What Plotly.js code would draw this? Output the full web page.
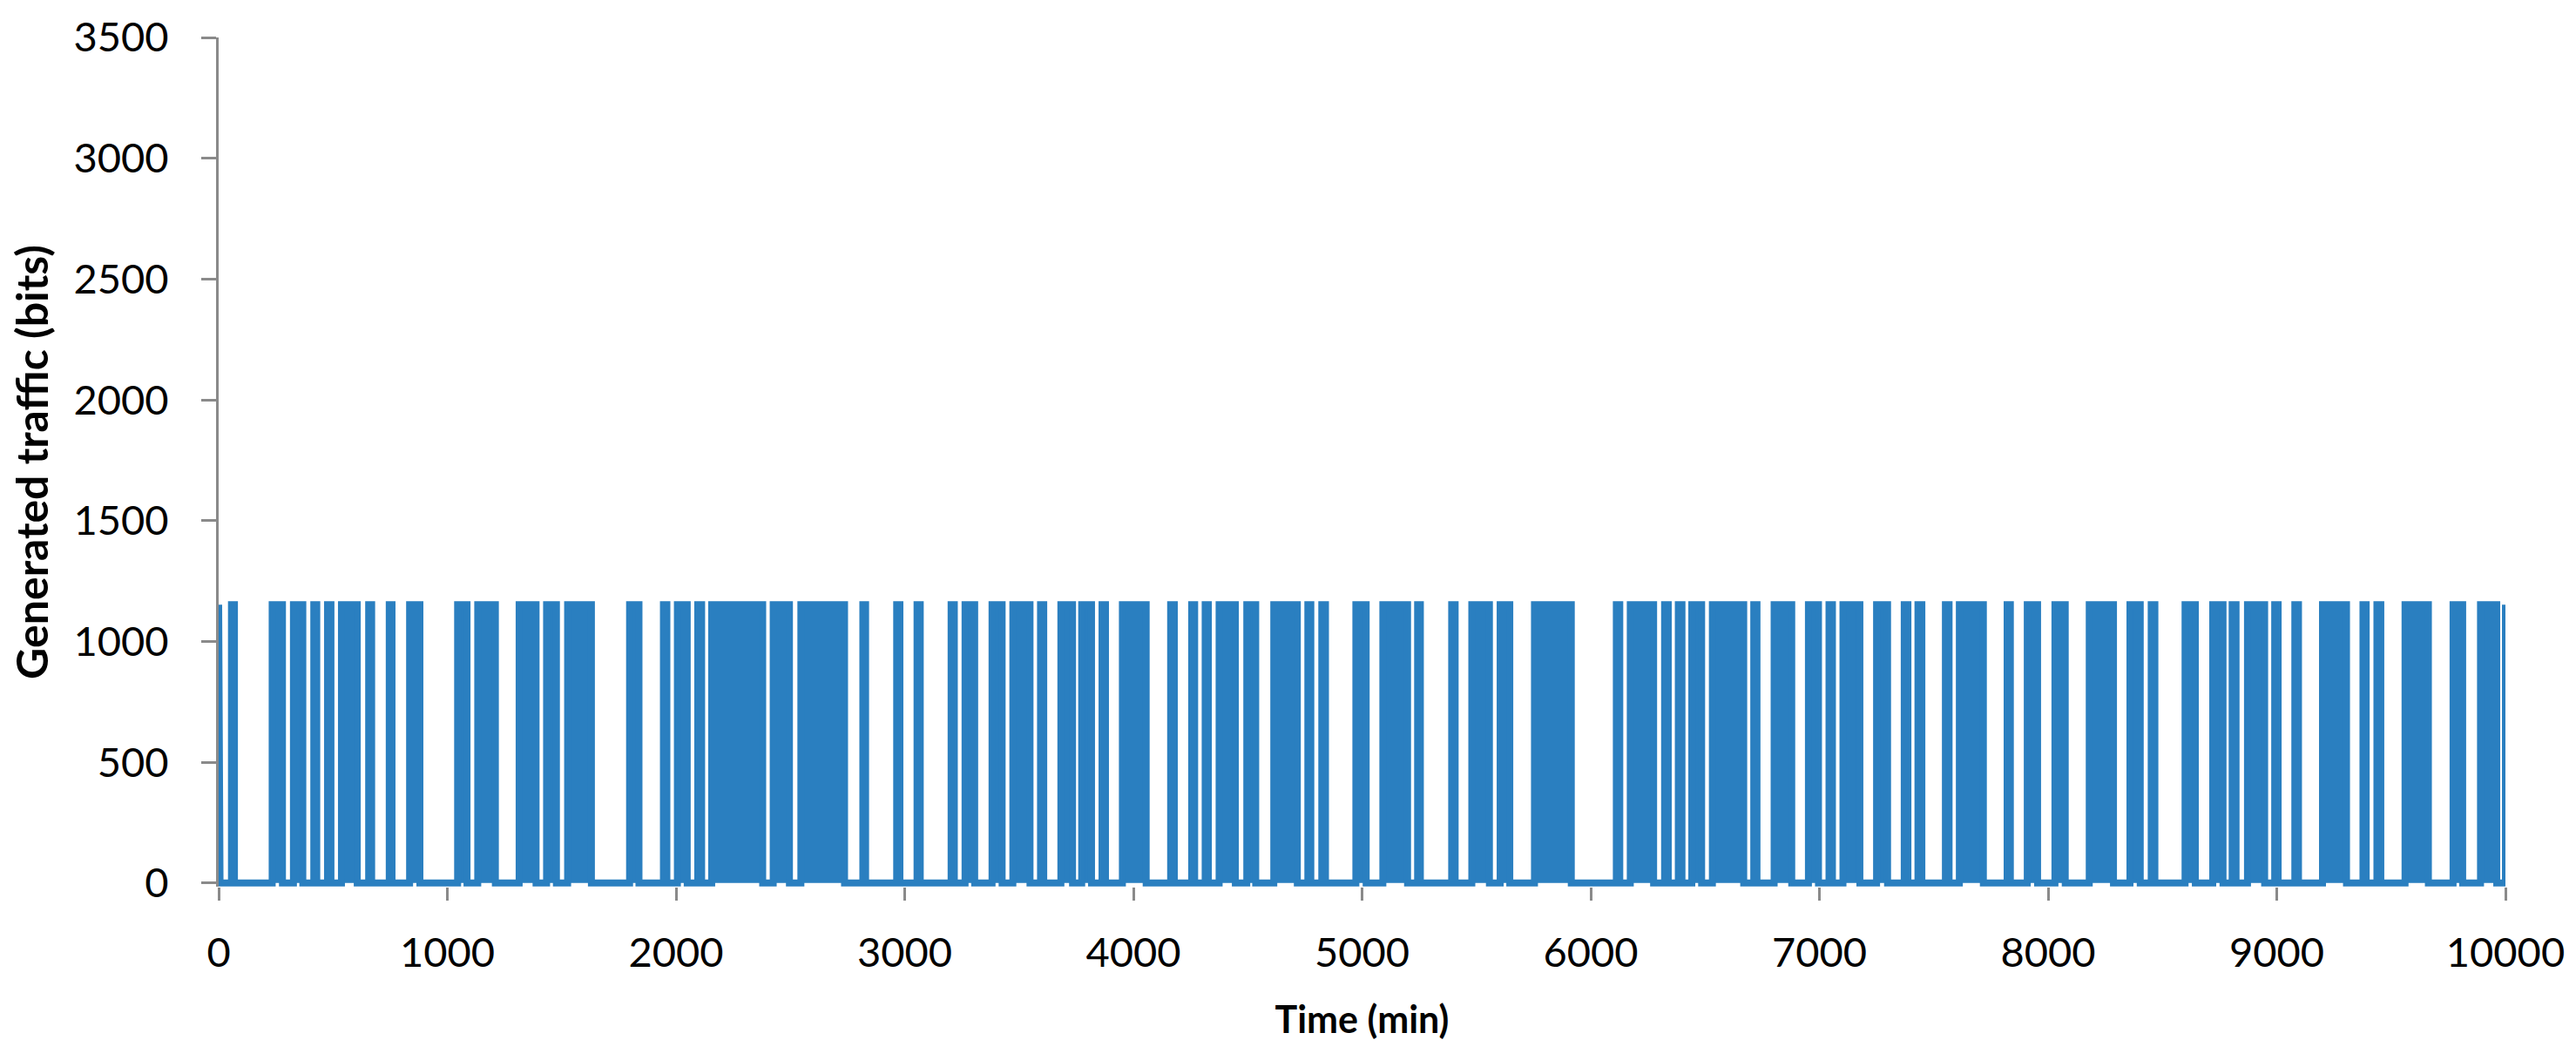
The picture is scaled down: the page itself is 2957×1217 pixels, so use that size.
<!DOCTYPE html>
<html>
<head>
<meta charset="utf-8">
<script src="https://cdn.plot.ly/plotly-3.0.1.min.js"></script>
<style>
  html, body { margin: 0; padding: 0; background: #ffffff; }
  #chart { width: 2957px; height: 1217px; }
</style>
</head>
<body>
<div id="chart"></div>
<script>
// Traffic bursts: start and end time (min) of each "on" period
const pulseStart = [0, 56, 234, 327, 416, 476, 537, 656, 746, 835, 1045, 1133,
  1314, 1434, 1526, 1797, 1945, 2006, 2095, 2156, 2425,
  2546, 2817, 2965, 3054, 3203, 3264, 3382, 3473, 3594, 3683,
  3774, 3863, 3952, 4163, 4255, 4314, 4375, 4496, 4614, 4763, 4824, 4973,
  5091, 5243, 5392, 5480, 5604, 5754, 6112, 6173,
  6323, 6383, 6442, 6532, 6713, 6802, 6952, 7042, 7103, 7250, 7371, 7431,
  7551, 7612, 7821, 7909, 8030, 8180, 8358, 8451, 8599, 8720,
  8805, 8872, 8991, 9079, 9200, 9377, 9438, 9561, 9771, 9891, 10000];
const pulseEnd = [6, 69, 279, 368, 429, 491, 606, 669, 758, 880, 1086, 1210,
  1388, 1477, 1630, 1838, 1960, 2049, 2112, 2379, 2496,
  2737, 2829, 2979, 3068, 3217, 3306, 3426, 3548, 3608, 3734,
  3817, 3878, 4056, 4179, 4268, 4328, 4446, 4535, 4717, 4776, 4840, 5018,
  5199, 5255, 5407, 5557, 5646, 5915, 6127, 6275,
  6339, 6399, 6485, 6669, 6727, 6879, 6996, 7057, 7177, 7298, 7387, 7448,
  7567, 7717, 7835, 7954, 8075, 8286, 8403, 8467, 8644, 8765,
  8822, 8947, 9006, 9095, 9305, 9391, 9455, 9663, 9813, 9962, 10000];
const peakBits = 1152;   // traffic generated during an "on" period (bits)
const idleBits = 0;
const timeStart = 0;
const timeEnd = 10000;

// build the step series from the bursts
const xs = [timeStart];
const ys = [idleBits];
for (let i = 0; i < pulseStart.length; i++) {
  xs.push(pulseStart[i], pulseStart[i], pulseEnd[i], pulseEnd[i]);
  ys.push(idleBits, peakBits, peakBits, idleBits);
}
xs.push(timeEnd);
ys.push(idleBits);

const blue = '#2a7fc0';
const grey = '#8a8a8a';
const tickFont = { family: 'Lato, "Open Sans", sans-serif', size: 47, color: '#000000' };
const xTitleFont = { family: 'Lato, "Open Sans", sans-serif', size: 43, color: '#000000', weight: 'bold' };
const yTitleFont = { family: 'Lato, "Open Sans", sans-serif', size: 50, color: '#000000', weight: 'bold' };

const trace = {
  type: 'scatter',
  mode: 'lines',
  x: xs,
  y: ys,
  line: { color: blue, width: 8, shape: 'linear' },
  fill: 'tozeroy',
  fillcolor: blue,
  hoverinfo: 'x+y',
  showlegend: false
};

const layout = {
  width: 2957,
  height: 1217,
  paper_bgcolor: '#ffffff',
  plot_bgcolor: '#ffffff',
  margin: { l: 251, r: 81, t: 43, b: 199 },
  showlegend: false,
  xaxis: {
    range: [0, 10000],
    tickmode: 'linear', tick0: 0, dtick: 1000,
    tickformat: 'd', exponentformat: 'none', separatethousands: false,
    showgrid: false, zeroline: false,
    showline: false,
    ticks: 'outside', ticklen: 15, tickwidth: 3, tickcolor: grey,
    tickfont: tickFont,
    ticklabelstandoff: 20,
    title: { text: '<b>Time (min)</b>', font: xTitleFont, standoff: 36 }
  },
  yaxis: {
    range: [-15, 3500],
    tickmode: 'linear', tick0: 0, dtick: 500,
    tickformat: 'd',
    showgrid: false, zeroline: false,
    showline: true, linecolor: grey, linewidth: 3,
    ticks: 'outside', ticklen: 17, tickwidth: 3, tickcolor: grey,
    tickfont: tickFont,
    ticklabelstandoff: 28,
    title: { text: '<b>Generated traffic (bits)</b>', font: yTitleFont, standoff: 14 }
  }
};

Plotly.newPlot('chart', [trace], layout, { displayModeBar: false, staticPlot: true });
</script>
</body>
</html>
